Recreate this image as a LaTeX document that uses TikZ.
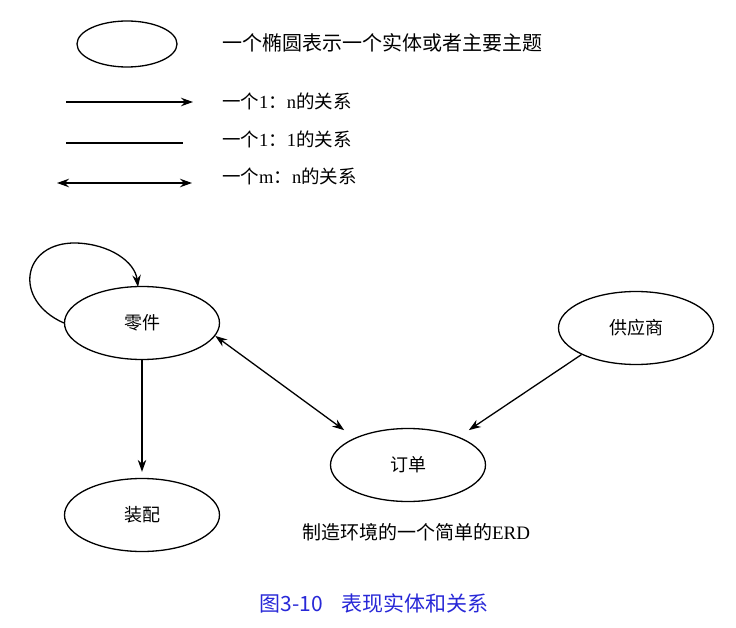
\documentclass[tikz,border=0pt]{standalone}
\usepackage{fontspec}
\setmainfont{Liberation Serif}
\newfontfamily\cjk{Noto Sans CJK SC}
\usetikzlibrary{arrows.meta,shapes.geometric}
\definecolor{titleblue}{RGB}{40,40,215}
\newcommand{\zh}[1]{{\cjk #1}}

\begin{document}
\begin{tikzpicture}[x=1pt, y=-1pt,
  entity/.style={draw=black, ellipse, line width=1.3pt, minimum width=155pt, minimum height=73pt, inner sep=0pt, font=\fontsize{18}{20}\selectfont\cjk},
  legtext/.style={anchor=west, inner sep=0pt, font=\fontsize{18.5}{20}\selectfont},
  rel/.style={line width=1.3pt, -{Stealth[length=12pt,width=8.5pt]}},
  both/.style={{Stealth[length=12pt,width=8.5pt]}-{Stealth[length=12pt,width=8.5pt]}},
  every node/.style={text=black}]
  \useasboundingbox (0,0) rectangle (736,628);

  % legend
  \node[entity, minimum width=100pt, minimum height=46pt] (legell) at (127,44) {};
  \node[legtext, font=\fontsize{20}{22}\selectfont] (legent) at (222,43) {\zh{一个椭圆表示一个实体或者主要主题}};
  \coordinate (onenA) at (66,102);  \coordinate (onenB) at (193,102);
  \coordinate (oneoneA) at (66,143); \coordinate (oneoneB) at (183,143);
  \coordinate (mnA) at (57,183);    \coordinate (mnB) at (192,183);
  \draw[rel] (onenA) -- (onenB);
  \draw[line width=1.3pt] (oneoneA) -- (oneoneB);
  \draw[rel, both] (mnA) -- (mnB);
  \node[legtext] (legonen) at (222,101) {\zh{一个}1\zh{：}n\zh{的关系}};
  \node[legtext] (legoneone) at (222,139) {\zh{一个}1\zh{：}1\zh{的关系}};
  \node[legtext] (legmn) at (222,176) {\zh{一个}m\zh{：}n\zh{的关系}};

  % entities
  \node[entity] (part) at (142,323) {零件};
  \node[entity] (supplier) at (636,328) {供应商};
  \node[entity] (order) at (408,465) {订单};
  \node[entity] (assembly) at (142,515) {装配};

  % relations
  \draw[rel] (part.west) .. controls (12,300) and (22,242) .. (76,243) .. controls (110,244) and (135,262) .. (138,287);
  \draw[rel, shorten >=6pt] (part.south) -- (assembly.north);
  \draw[rel, both, shorten >=13pt] (part.-10) -- (order.153);
  \draw[rel, shorten >=12pt] (supplier.206) -- (order.29);

  \node[font=\fontsize{19}{21}\selectfont] (caption) at (416,532) {\zh{制造环境的一个简单的}ERD};
  \node[font=\fontsize{21}{24}\selectfont\cjk, text=titleblue] (title) at (374,603) {图3-10\hspace{18pt}表现实体和关系};
\end{tikzpicture}
\end{document}
